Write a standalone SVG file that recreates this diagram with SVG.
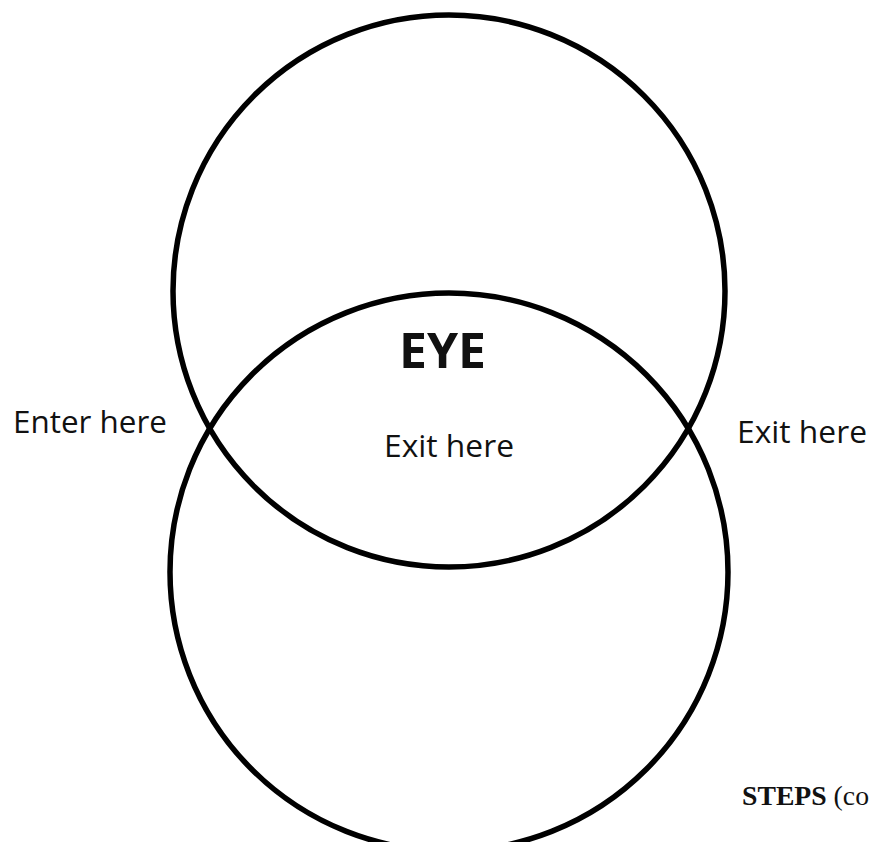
<svg xmlns="http://www.w3.org/2000/svg" width="872" height="842" viewBox="0 0 872 842">
<style>
.ring{fill:none;stroke:#000;stroke-width:5.5}
.lbl{font-family:"Open Sans","Noto Sans","Liberation Sans",sans-serif;font-size:31px;fill:#111}
.title{font-family:"Open Sans","Noto Sans","Liberation Sans",sans-serif;font-size:48px;font-weight:bold;fill:#111}
.steps{font-family:"Liberation Serif",serif;font-size:28px;fill:#111}
</style>
<rect width="872" height="842" fill="#fff"/>
<g id="top-circle"><circle class="ring" cx="449" cy="291" r="276"/></g>
<g id="bottom-circle"><circle class="ring" cx="449" cy="572" r="279"/></g>
<g id="eye"><text class="title" x="399" y="368" textLength="87" lengthAdjust="spacingAndGlyphs">EYE</text></g>
<g id="enter"><text class="lbl" x="13" y="433" textLength="154" lengthAdjust="spacingAndGlyphs">Enter here</text></g>
<g id="exit-center"><text class="lbl" x="384" y="457" textLength="130" lengthAdjust="spacingAndGlyphs">Exit here</text></g>
<g id="exit-right"><text class="lbl" x="737" y="443" textLength="130" lengthAdjust="spacingAndGlyphs">Exit here</text></g>
<g id="steps"><text class="steps" x="742" y="805" textLength="127" lengthAdjust="spacingAndGlyphs"><tspan font-weight="bold">STEPS</tspan> (co</text></g>
<g id="connectors"/>
</svg>
